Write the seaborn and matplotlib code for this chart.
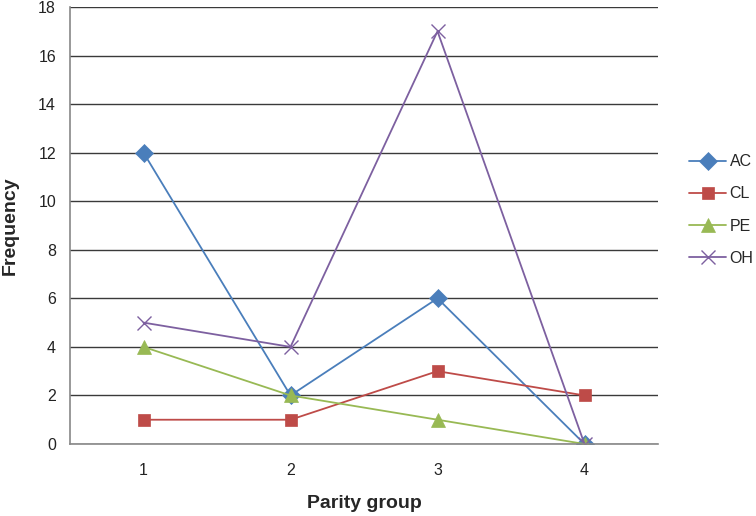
import matplotlib
matplotlib.use("Agg")
import matplotlib.pyplot as plt
import seaborn as sns
import pandas as pd

groups = [1, 2, 3, 4]
series_names = ["AC", "CL", "PE", "OH"]
ac = [12, 2, 6, 0]
cl = [1, 1, 3, 2]
pe = [4, 2, 1, 0]
oh = [5, 4, 17, 0]
yticks = [0, 2, 4, 6, 8, 10, 12, 14, 16, 18]

colors = {"AC": "#4A7EBB", "CL": "#BE4B48", "PE": "#98B954", "OH": "#7D60A0"}
markers = {"AC": "D", "CL": "s", "PE": "^", "OH": "x"}
msizes = {"AC": 9, "CL": 9, "PE": 10, "OH": 10}

sns.set_style("white")
plt.rcParams['font.family'] = ['Liberation Sans', 'DejaVu Sans']

fig = plt.figure(figsize=(7.56, 5.16), dpi=100)
ax = fig.add_axes([70/756, 1-444/516, 588/756, 437/516])

for name, vals in zip(series_names, [ac, cl, pe, oh]):
    df = pd.DataFrame({"group": groups, "value": vals})
    sns.lineplot(data=df, x="group", y="value", ax=ax, color=colors[name],
                 marker=markers[name], markersize=msizes[name], linewidth=1.3,
                 markeredgecolor=colors[name], markeredgewidth=1.0 if name == "OH" else 0.5,
                 label=name)

ax.set_xlim(0.5, 4.5)
ax.set_ylim(0, 18)
ax.set_yticks(yticks)
ax.set_xticks(groups)
ax.set_xticklabels([str(g) for g in groups])
ax.yaxis.grid(True, color="#3a3a3a", linewidth=1.0)
ax.set_axisbelow(True)
for s in ["top", "right"]:
    ax.spines[s].set_visible(False)
ax.spines["left"].set_color("#888888")
ax.spines["bottom"].set_color("#888888")
ax.spines["left"].set_linewidth(1.2)
ax.spines["bottom"].set_linewidth(1.2)
ax.tick_params(axis="both", length=0, labelsize=11.5, colors="#222222", pad=14)
ax.tick_params(axis="y", pad=10)
ax.set_xlabel("Parity group", fontsize=14, fontweight="bold", labelpad=12)
ax.set_ylabel("Frequency", fontsize=14, fontweight="bold", labelpad=14)

leg = ax.legend(loc="center left", bbox_to_anchor=(0.912, 0.593), bbox_transform=fig.transFigure,
                frameon=False, fontsize=11.5, handlelength=2.3, labelspacing=1.08,
                handletextpad=0.22, borderpad=0, borderaxespad=0)

fig.savefig("out.png", dpi=100)
